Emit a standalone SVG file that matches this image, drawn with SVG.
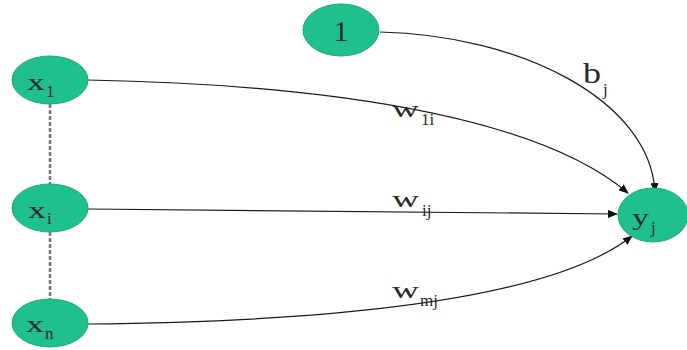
<svg xmlns="http://www.w3.org/2000/svg" width="687" height="350" viewBox="0 0 687 350">
<style>
.node{fill:#1fbf8e;stroke:#1aa87c;stroke-width:1}
.lbl{font-family:"Liberation Serif","Times New Roman",serif;fill:#2a2a2a;font-size:24px}
.big{font-size:30px}
.sub{font-family:"Liberation Serif","Times New Roman",serif;fill:#2a2a2a;font-size:17px}
.edge{fill:none;stroke:#1a1a1a;stroke-width:1.2}
.dash{fill:none;stroke:#777;stroke-width:2.5;stroke-dasharray:4,2}
</style>
<defs>
<marker id="arr" markerWidth="10" markerHeight="8" refX="9" refY="4" orient="auto" markerUnits="userSpaceOnUse">
<path d="M0,0 L10,4 L0,8 Z" fill="#111"/>
</marker>
</defs>
<rect width="687" height="350" fill="#fff"/>
<g id="connectors">
<line class="dash" x1="50" y1="104" x2="50" y2="184"/>
<line class="dash" x1="50" y1="232" x2="50" y2="299"/>
<path class="edge" d="M380,32 C520,35 650,100 655,192" marker-end="url(#arr)"/>
<path class="edge" d="M88,80 C300,84 530,110 628,193" marker-end="url(#arr)"/>
<path class="edge" d="M88,209 L617,214" marker-end="url(#arr)"/>
<path class="edge" d="M88,324 C300,322 545,305 632,236" marker-end="url(#arr)"/>
<text class="lbl big" x="583" y="83" textLength="18" lengthAdjust="spacingAndGlyphs">b</text>
<text class="sub" x="603" y="95">j</text>
<text class="lbl" x="392" y="117" textLength="27" lengthAdjust="spacingAndGlyphs">w</text>
<text class="sub" x="421" y="125">1i</text>
<text class="lbl" x="392" y="207" textLength="27" lengthAdjust="spacingAndGlyphs">w</text>
<text class="sub" x="422" y="216">ij</text>
<text class="lbl" x="392" y="298" textLength="27" lengthAdjust="spacingAndGlyphs">w</text>
<text class="sub" x="420" y="306">mj</text>
</g>
<g id="node-bias">
<ellipse class="node" cx="341" cy="30" rx="38" ry="26"/>
<text class="lbl big" x="341" y="41" text-anchor="middle">1</text>
</g>
<g id="node-x1">
<ellipse class="node" cx="50" cy="80" rx="38" ry="24"/>
<text class="lbl" x="27" y="90" textLength="18" lengthAdjust="spacingAndGlyphs">x</text>
<text class="sub" x="46" y="97">1</text>
</g>
<g id="node-xi">
<ellipse class="node" cx="50" cy="208" rx="38" ry="24"/>
<text class="lbl" x="28" y="218" textLength="18" lengthAdjust="spacingAndGlyphs">x</text>
<text class="sub" x="47" y="224">i</text>
</g>
<g id="node-xn">
<ellipse class="node" cx="50" cy="323" rx="38" ry="24"/>
<text class="lbl" x="26" y="332" textLength="18" lengthAdjust="spacingAndGlyphs">x</text>
<text class="sub" x="45" y="339">n</text>
</g>
<g id="node-yj">
<ellipse class="node" cx="653" cy="215" rx="35" ry="27"/>
<text class="lbl" x="632" y="225" textLength="17" lengthAdjust="spacingAndGlyphs">y</text>
<text class="sub" x="651" y="233">j</text>
</g>
</svg>
